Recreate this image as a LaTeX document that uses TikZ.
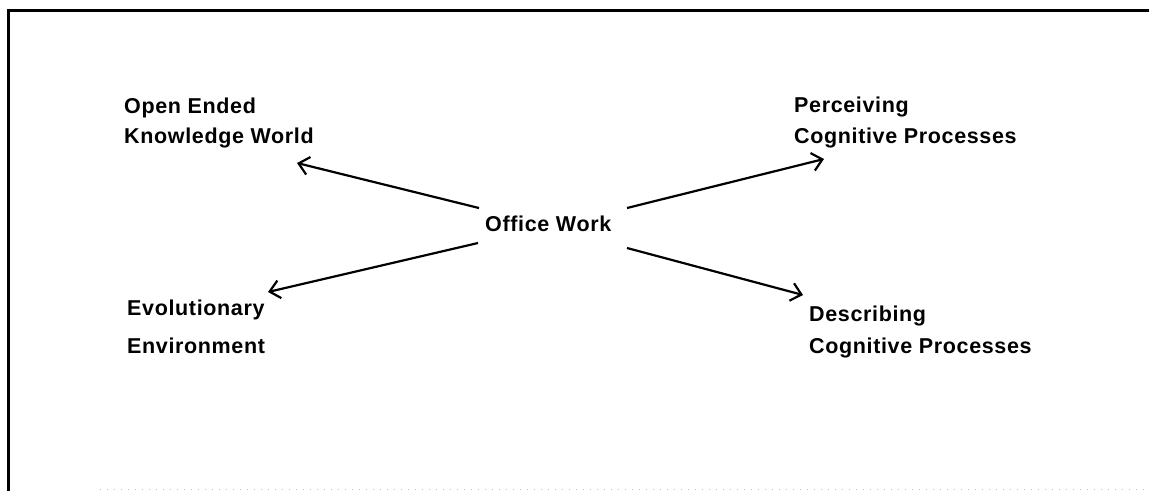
\documentclass[tikz,border=0pt]{standalone}
\usepackage{fontspec}
\newfontfamily\labfont{Liberation Sans}[LetterSpace=3]
\usetikzlibrary{arrows.meta}
\begin{document}
\begin{tikzpicture}[x=1pt,y=-1pt,
  lab/.style={font=\labfont\bfseries\fontsize{21.5}{26}\selectfont, inner sep=0pt, anchor=base west},
  arr/.style={line width=2.2pt, -{Straight Barb[length=10pt,width=18pt,line width=2.2pt]}},
  frame/.style={line width=3pt}]
\useasboundingbox (0,0) rectangle (1149,491);
\fill[white] (0,0) rectangle (1149,491);
% frame
\draw[frame] (1149,10) -- (8,10) -- (8,491);
\draw[gray!50, line width=1pt, dash pattern=on 1pt off 6pt] (100,489) -- (1149,489);
% labels
\node[lab] (ow) at (485,231) {Office Work};
\node[lab] (oe1) at (124,113) {Open Ended};
\node[lab] (oe2) at (124,143) {Knowledge World};
\node[lab] (pc1) at (794,112) {Perceiving};
\node[lab] (pc2) at (794,143) {Cognitive Processes};
\node[lab] (ev1) at (127,315) {Evolutionary};
\node[lab] (ev2) at (127,353) {Environment};
\node[lab] (dc1) at (809,321) {Describing};
\node[lab] (dc2) at (809,353) {Cognitive Processes};
% arrow ends
\coordinate (s1) at (479,208); \coordinate (t1) at (297,163);
\coordinate (s2) at (478,243); \coordinate (t2) at (268,292);
\coordinate (s3) at (627,208); \coordinate (t3) at (824,159);
\coordinate (s4) at (627,248); \coordinate (t4) at (803,295);
\draw[arr] (s1) -- (t1);
\draw[arr] (s2) -- (t2);
\draw[arr] (s3) -- (t3);
\draw[arr] (s4) -- (t4);
\end{tikzpicture}
\end{document}
